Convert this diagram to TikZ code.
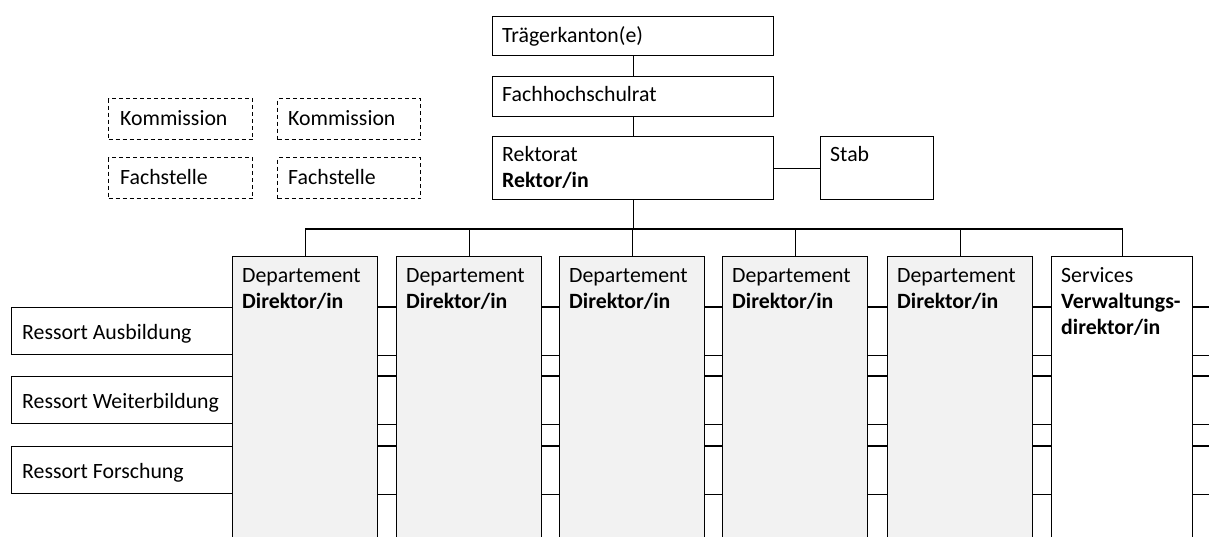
\documentclass[tikz,border=0pt]{standalone}
\usepackage{fontspec}
\setmainfont{Carlito}
\usetikzlibrary{calc}
\definecolor{deptfill}{HTML}{F2F2F2}
\tikzset{
  box/.style={draw, line width=1.3pt, fill=white, rectangle, inner sep=0pt, anchor=north west},
  dashbox/.style={box, dash pattern=on 4pt off 3pt},
  deptbox/.style={box, fill=deptfill, minimum width=145pt, minimum height=320pt},
  txt/.style={anchor=base west, inner sep=0pt, font=\fontsize{21.8}{26}\selectfont},
  btxt/.style={anchor=base west, inner sep=0pt, font=\fontsize{21.8}{26}\selectfont\bfseries},
  link/.style={draw, line width=1.3pt},
}
\begin{document}
\begin{tikzpicture}[x=1pt,y=-1pt]
\useasboundingbox (0,0) rectangle (1209,536);
\clip (0,0) rectangle (1209,536);
\coordinate (edge) at (1209,0);
\coordinate (bus) at (632,229);

% governing bodies
\node[box, minimum width=281pt, minimum height=39pt] (traeger) at (492,16) {};
\node[txt] (traegertxt) at ($(traeger.north west)+(10,26)$) {Trägerkanton(e)};
\node[box, minimum width=281pt, minimum height=40pt] (fhr) at (492,76) {};
\node[txt] (fhrtxt) at ($(fhr.north west)+(10,25)$) {Fachhochschulrat};
\node[box, minimum width=281pt, minimum height=63pt] (rek) at (492,136) {};
\node[txt] (rektxt) at ($(rek.north west)+(10,25)$) {Rektorat};
\node[btxt] (rekbold) at ($(rek.north west)+(10,51)$) {Rektor/in};
\node[box, minimum width=113pt, minimum height=63pt] (stab) at (820,136) {};
\node[txt] (stabtxt) at ($(stab.north west)+(10,25)$) {Stab};

\draw[link] (traeger.south) -- (fhr.north);
\draw[link] (fhr.south) -- (rek.north);
\draw[link] (rek.east) -- (stab.west);

% commissions and specialist units
\node[dashbox, minimum width=144pt, minimum height=41pt] (kom1) at (108,98) {};
\node[txt] (kom1txt) at ($(kom1.north west)+(12,27)$) {Kommission};
\node[dashbox, minimum width=143pt, minimum height=41pt] (kom2) at (277,98) {};
\node[txt] (kom2txt) at ($(kom2.north west)+(11,27)$) {Kommission};
\node[dashbox, minimum width=144pt, minimum height=41pt] (fach1) at (108,157) {};
\node[txt] (fach1txt) at ($(fach1.north west)+(12,27)$) {Fachstelle};
\node[dashbox, minimum width=143pt, minimum height=41pt] (fach2) at (277,157) {};
\node[txt] (fach2txt) at ($(fach2.north west)+(11,27)$) {Fachstelle};

% cross-cutting departments (Ressorts)
\node[box, minimum width=221pt, minimum height=47pt] (r1) at (11,307) {};
\node[txt] (r1txt) at ($(r1.north west)+(11,32)$) {Ressort Ausbildung};
\node[box, minimum width=221pt, minimum height=47pt] (r2) at (11,376) {};
\node[txt] (r2txt) at ($(r2.north west)+(11,32)$) {Ressort Weiterbildung};
\node[box, minimum width=221pt, minimum height=47pt] (r3) at (11,446) {};
\node[txt] (r3txt) at ($(r3.north west)+(11,32)$) {Ressort Forschung};

% ressort bands running through all units
\foreach \r in {r1,r2,r3}{
  \draw[link] (\r.north east) -- (\r.north east -| edge);
  \draw[link] (\r.south east) -- (\r.south east -| edge);
}

% departments
\node[deptbox] (d1) at (232,256) {};
\node[deptbox] (d2) at (396,256) {};
\node[deptbox] (d3) at (559,256) {};
\node[deptbox] (d4) at (722,256) {};
\node[deptbox] (d5) at (887,256) {};
\node[box, minimum width=141pt, minimum height=320pt] (d6) at (1051,256) {};
\foreach \d in {d1,d2,d3,d4,d5}{
  \node[txt] (\d txt) at ($(\d.north west)+(10,26)$) {Departement};
  \node[btxt] (\d bold) at ($(\d.north west)+(10,52)$) {Direktor/in};
}
\node[txt] (d6txt) at ($(d6.north west)+(10,26)$) {Services};
\node[btxt] (d6bold) at ($(d6.north west)+(10,52)$) {Verwaltungs-};
\node[btxt] (d6bold2) at ($(d6.north west)+(10,78)$) {direktor/in};

% reporting lines from the Rektorat
\draw[link] (rek.south) -- (rek.south |- bus);
\draw[link] (d1.north) -- (d1.north |- bus) -- (d6.north |- bus) -- (d6.north);
\foreach \d in {d2,d3,d4,d5}{
  \draw[link] (\d.north) -- (\d.north |- bus);
}
\end{tikzpicture}
\end{document}
